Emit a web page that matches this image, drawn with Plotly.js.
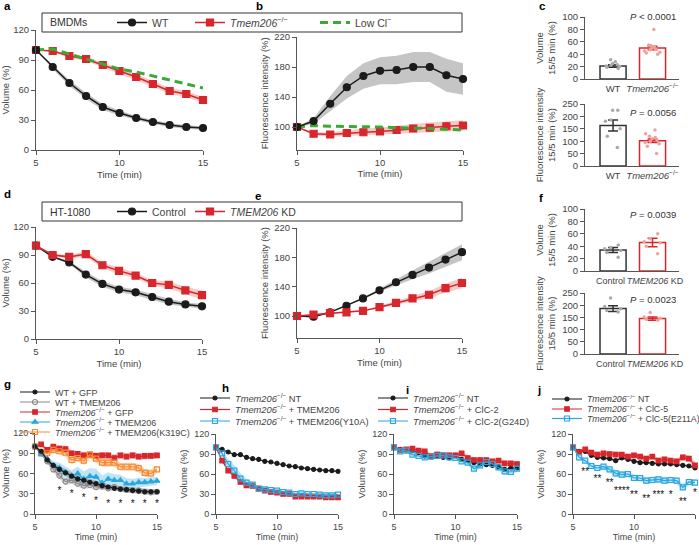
<!DOCTYPE html>
<html><head><meta charset="utf-8">
<script src="https://cdn.plot.ly/plotly-3.0.1.min.js"></script>
<style>body{margin:0;background:#fff}#chart{width:699px;height:545px}</style>
</head><body><div id="chart"></div>
<script>
// ---------- DATA ----------
const t1 = [5,6,7,8,9,10,11,12,13,14,15];
const t2 = [5,5.5,6,6.5,7,7.5,8,8.5,9,9.5,10,10.5,11,11.5,12,12.5,13,13.5,14,14.5,15];

// panel a (volume, BMDMs)
const aWT    = [100,83,67,54,43,37,32,28,25,23,22];
const aWTsem = [0,2,3,3,3,2.5,2,2,2,2,1.5];
const aKO    = [100,99,94,91,85,79,73,66,59,56,50];
const aKOsem = [0,1,2,2,2.5,3,3,3,3,3,3];
const aLow   = [100,101,96,91,86,81,78,74,70,66,62];
// panel b (fluorescence, BMDMs)
const bWT    = [100,108,131,153,168,175,176,180,180,169,164];
const bWTsem = [0,4,10,15,17,18,19,20,20,22,21];
const bKO    = [100,91,90,92,93,94,96,98,99,101,102];
const bKOsem = [0,2,3,4,5,5,6,6,7,7,7];
const bLow   = [100,102,101,101,101,100,99,99,98,97,96];
// panel c
const cCats = ['WT','<i>Tmem206</i><sup>−/−</sup>'];
const cVolMean = [21,50], cVolErr = [2,3];
const cVolWT = [17,19,20,21,22,23,25,28,31];
const cVolKO = [40,42,43,45,47,48,50,52,54,55,80];
const cFluMean = [163,102], cFluErr = [22,7];
const cFluWT = [225,225,185,180,150,120,75];
const cFluKO = [145,130,120,115,110,105,100,95,90,80,50];
// panel d (volume, HT-1080)
const dCtl    = [100,88,82,69,59,53,50,45,40,37,35];
const dCtlsem = [0,1,1.5,3,3,3,3,3,3,2.5,2.5];
const dKD     = [100,90,88,91,79,73,68,60,58,52,47];
const dKDsem  = [0,1.5,2,3,3,3.5,3,3,4,4,5];
// panel e (fluorescence, HT-1080)
const eCtl    = [100,99,105,114,124,135,146,156,166,177,187];
const eCtlsem = [0,0.5,1,1,1.5,2,4,6,8,10,11];
const eKD     = [100,102,104,105,107,112,118,124,129,138,145];
const eKDsem  = [0,1,1,1,1,2,3,4,5,6,7];
// panel f
const fCats = ['Control','TMEM206 KD'];
const fTickText = ['Control\u00a0\u00a0','\u00a0\u00a0<i>TMEM206</i> KD'];
const fVolMean = [34,46], fVolErr = [4,7];
const fVolCtl = [42,38,36,33,30,22];
const fVolKD  = [60,52,47,45,40,28];
const fFluMean = [186,145], fFluErr = [12,7];
const fFluCtl = [230,195,185,178,172];
const fFluKD  = [170,152,147,142,138];
// panel g
const gWTGFP = [100,93,80,72,66,61,56,52,50,47,45,42,40,38,37,36,35,34,33,33,33];
const gWTTM  = [100,90,78,66,57,48,50,45,42,43,40,41,38,40,37,36,35,35,33,32,33];
const gKOGFP = [100,103,95,100,97,96,90,89,87,88,86,87,87,83,87,85,87,85,86,86,87];
const gKOTM  = [100,88,82,72,68,62,56,60,52,56,55,46,52,50,50,45,45,47,47,48,49];
const gKOK   = [100,92,90,95,93,91,80,83,79,88,82,76,76,76,70,70,70,68,61,60,66];
const gWTGFPsem = [0,2,3,4,5,5,5,5,5,5,5,5,4,4,4,4,4,4,4,4,4];
const gWTTMsem  = [0,2,3,4,5,5,5,5,5,5,5,4,4,4,4,4,4,4,4,4,4];
const gKOGFPsem = [0,2,3,4,5,5,5,5,5,5,5,5,5,5,5,5,5,5,5,5,5];
const gKOTMsem  = [0,2,4,6,8,9,9,10,11,12,12,11,10,9,8,8,7,7,6,6,6];
const gKOKsem   = [0,3,4,5,5,6,6,6,6,6,6,6,6,6,6,6,6,6,6,6,6];
const gStarX = [7,8,9,10,11,12,13,14,15];
const gStarY = [34,29,23,19,14,14,14,14,14];
// panel h
const hNT = [100,97,93,89,89,85,83,82,79,78,76,74,72,71,69,68,67,66,65,65,64];
const hTM = [100,80,65,57,48,43,42,38,35,33,32,30,30,26,26,26,26,26,25,25,25];
const hY  = [100,91,75,65,53,47,44,38,37,36,35,33,32,30,31,30,30,29,28,28,29];
const hTMsem = [0,2,2,2,2,2,2,2,2,2,2,2,2,2,2,2,2,2,2,2,2];
const hYsem  = [0,3,7,9,8,6,4,3,3,3,3,3,3,3,3,3,3,3,3,3,3];
// panel i
const iNT = [100,97,96,95,92,87,86,88,85,84,88,82,80,77,75,74,73,71,67,69,69];
const iC2 = [100,96,97,98,95,94,87,89,88,88,88,91,84,81,81,81,79,80,76,76,75];
const iG  = [100,94,95,89,87,85,86,87,88,85,84,79,77,68,73,78,75,70,64,63,68];
const iC2sem = [0,2,3,3,4,4,4,5,5,5,4,4,4,4,4,4,4,4,4,4,4];
const iGsem  = [0,2,3,3,3,3,3,3,3,3,3,3,4,4,4,4,4,5,5,5,5];
// panel j
const jNT = [100,94,94,88,85,84,83,80,84,82,79,77,77,76,75,75,75,74,73,72,69];
const jC5 = [100,93,97,92,89,91,90,89,89,86,88,86,83,86,80,82,80,79,85,83,73];
const jE  = [100,85,80,72,69,71,67,61,59,60,54,54,50,51,52,50,51,50,40,48,47];
const jNTsem = [0,1,2,2,2,2,2,2,2,2,2,2,2,2,2,2,2,2,2,2,2];
const jC5sem = [0,2,3,4,4,4,4,4,4,4,4,4,4,4,4,4,4,4,5,5,5];
const jEsem  = [0,3,4,4,4,4,5,5,5,5,5,5,5,5,5,5,5,5,5,5,5];
const jStarX = [6,7,8,9,10,11,12,13,14,15];
const jStarY = [62,52,46,34,28,22,28,28,17,31];
const jStarT = ['**','**','**','****','**','**','***','*','**','*'];

// ---------- STYLE ----------
const W = 699, H = 545;
const F = 'Liberation Sans, Arial, Helvetica, sans-serif';
const AX = '#555', TXT = '#444';
const BLK = '#1b1b1b', RED = '#d7262c', GRN = '#3aaa35', BLUE = '#2aa7e0', ORG = '#f58a32', GRY = '#8a8a8a';
const bGrey = 'rgba(90,90,90,0.35)', bRed = 'rgba(225,90,80,0.32)', bBlue = 'rgba(42,167,224,0.3)', bOrg = 'rgba(245,138,50,0.35)';
const KO = '<i>Tmem206</i><sup>−/−</sup>';

const traces = [];
function band(x, m, s, xa, ya, fc) {
  const lo = m.map((v, i) => v - s[i]), hi = m.map((v, i) => v + s[i]);
  traces.push({type:'scatter', x, y:lo, xaxis:xa, yaxis:ya, mode:'lines', line:{width:0, color:'rgba(0,0,0,0)'}, showlegend:false, hoverinfo:'skip'});
  traces.push({type:'scatter', x, y:hi, xaxis:xa, yaxis:ya, mode:'lines', line:{width:0, color:'rgba(0,0,0,0)'}, fill:'tonexty', fillcolor:fc, showlegend:false, hoverinfo:'skip'});
}
function series(x, y, xa, ya, color, sym, size, width, name, leg, extra) {
  const t = {type:'scatter', x, y, xaxis:xa, yaxis:ya, mode:'lines+markers', name,
    line:{color, width}, marker:{color, symbol:sym, size, line:{color, width:1.2}},
    cliponaxis:false, showlegend:!!leg, hoverinfo:'skip'};
  if (leg) t.legend = leg;
  traces.push(Object.assign(t, extra || {}));
}
function bars(cats, mean, err, dotsA, dotsB, xa, ya, colA, colB, dotA, dotB) {
  [[dotsA, cats[0], dotA], [dotsB, cats[1], dotB]].forEach(([d, c, col]) => {
    traces.push({type:'box', x:d.map(() => c), y:d, xaxis:xa, yaxis:ya, boxpoints:'all', jitter:1, pointpos:0, width:0.5,
      fillcolor:'rgba(0,0,0,0)', line:{width:0, color:'rgba(0,0,0,0)'}, marker:{color:col, size:3.5}, showlegend:false, hoverinfo:'skip'});
  });
  [[0, colA], [1, colB]].forEach(([i, col]) => {
    traces.push({type:'bar', x:[cats[i]], y:[mean[i]], xaxis:xa, yaxis:ya, width:0.66,
      marker:{color:'rgba(0,0,0,0)', line:{color:col, width:1.5}},
      error_y:{type:'data', array:[err[i]], color:col, thickness:1.5, width:5}, showlegend:false, hoverinfo:'skip'});
  });
}

// a
band(t1, aWT, aWTsem, 'x', 'y', bGrey);
band(t1, aKO, aKOsem, 'x', 'y', bRed);
series(t1, aKO, 'x', 'y', RED, 'square', 7, 1.5, KO, 'legend2');
series(t1, aLow, 'x', 'y', GRN, 'circle', 1, 3, 'Low Cl<sup>−</sup>', 'legend3', {mode:'lines', line:{color:GRN, width:3, dash:'8px,5px'}});
series(t1, aWT, 'x', 'y', BLK, 'circle', 7, 1.5, 'WT', 'legend');
// b
band(t1, bWT, bWTsem, 'x2', 'y2', bGrey);
band(t1, bKO, bKOsem, 'x2', 'y2', bRed);
series(t1, bKO, 'x2', 'y2', RED, 'square', 7, 1.5, KO);
series(t1, bLow, 'x2', 'y2', GRN, 'circle', 1, 3, 'Low Cl', null, {mode:'lines', line:{color:GRN, width:3, dash:'8px,5px'}});
series(t1, bWT, 'x2', 'y2', BLK, 'circle', 7, 1.5, 'WT');
// c
bars(cCats, cVolMean, cVolErr, cVolWT, cVolKO, 'x3', 'y3', '#333', RED, '#a9a9a9', '#f4a19b');
bars(cCats, cFluMean, cFluErr, cFluWT, cFluKO, 'x4', 'y4', '#333', RED, '#a9a9a9', '#f4a19b');
// d
band(t1, dCtl, dCtlsem, 'x5', 'y5', bGrey);
band(t1, dKD, dKDsem, 'x5', 'y5', bRed);
series(t1, dCtl, 'x5', 'y5', BLK, 'circle', 7, 1.5, 'Control', 'legend4');
series(t1, dKD, 'x5', 'y5', RED, 'square', 7, 1.5, '<i>TMEM206</i> KD', 'legend5');
// e
band(t1, eCtl, eCtlsem, 'x6', 'y6', bGrey);
band(t1, eKD, eKDsem, 'x6', 'y6', bRed);
series(t1, eCtl, 'x6', 'y6', BLK, 'circle', 7, 1.5, 'Control');
series(t1, eKD, 'x6', 'y6', RED, 'square', 7, 1.5, 'KD');
// f
bars(fCats, fVolMean, fVolErr, fVolCtl, fVolKD, 'x7', 'y7', '#333', RED, '#a9a9a9', '#f4a19b');
bars(fCats, fFluMean, fFluErr, fFluCtl, fFluKD, 'x8', 'y8', '#333', RED, '#a9a9a9', '#f4a19b');
// g
band(t2, gKOGFP, gKOGFPsem, 'x9', 'y9', bRed);
band(t2, gKOK, gKOKsem, 'x9', 'y9', bOrg);
band(t2, gKOTM, gKOTMsem, 'x9', 'y9', bBlue);
band(t2, gWTTM, gWTTMsem, 'x9', 'y9', 'rgba(150,150,150,0.35)');
band(t2, gWTGFP, gWTGFPsem, 'x9', 'y9', bGrey);
series(t2, gKOGFP, 'x9', 'y9', RED, 'square', 4.5, 1.2, KO + ' + GFP', 'legend8');
series(t2, gKOK, 'x9', 'y9', ORG, 'square-open', 5, 1.2, KO + ' + TMEM206(K319C)', 'legend10');
series(t2, gKOTM, 'x9', 'y9', BLUE, 'triangle-up', 5, 1.2, KO + ' + TMEM206', 'legend9');
series(t2, gWTTM, 'x9', 'y9', GRY, 'circle-open', 5, 1.2, 'WT + TMEM206', 'legend7');
series(t2, gWTGFP, 'x9', 'y9', BLK, 'circle', 4, 1.2, 'WT + GFP', 'legend6');
traces.push({type:'scatter', x:gStarX, y:gStarY, xaxis:'x9', yaxis:'y9', mode:'text', text:gStarX.map(() => '*'),
  textfont:{family:F, size:10, color:'#111'}, showlegend:false, hoverinfo:'skip', cliponaxis:false});
// h
band(t2, hY, hYsem, 'x10', 'y10', bBlue);
band(t2, hTM, hTMsem, 'x10', 'y10', bRed);
series(t2, hNT, 'x10', 'y10', BLK, 'circle', 4, 1.2, KO + ' NT', 'legend11');
series(t2, hTM, 'x10', 'y10', RED, 'square', 4.5, 1.2, KO + ' + TMEM206', 'legend12');
series(t2, hY, 'x10', 'y10', BLUE, 'square-open', 5, 1.2, KO + ' + TMEM206(Y10A)', 'legend13');
// i
band(t2, iC2, iC2sem, 'x11', 'y11', bRed);
band(t2, iG, iGsem, 'x11', 'y11', bBlue);
series(t2, iNT, 'x11', 'y11', BLK, 'circle', 4, 1.2, KO + ' NT', 'legend14');
series(t2, iC2, 'x11', 'y11', RED, 'square', 4.5, 1.2, KO + ' + ClC-2', 'legend15');
series(t2, iG, 'x11', 'y11', BLUE, 'square-open', 5, 1.2, KO + ' + ClC-2(G24D)', 'legend16');
// j
band(t2, jNT, jNTsem, 'x12', 'y12', bGrey);
band(t2, jC5, jC5sem, 'x12', 'y12', bRed);
band(t2, jE, jEsem, 'x12', 'y12', bBlue);
series(t2, jNT, 'x12', 'y12', BLK, 'circle', 4, 1.2, KO + ' NT', 'legend17');
series(t2, jC5, 'x12', 'y12', RED, 'square', 4.5, 1.2, KO + ' + ClC-5', 'legend18');
series(t2, jE, 'x12', 'y12', BLUE, 'square-open', 5, 1.2, KO + ' + ClC-5(E211A)', 'legend19');
traces.push({type:'scatter', x:jStarX, y:jStarY, xaxis:'x12', yaxis:'y12', mode:'text', text:jStarT,
  textfont:{family:F, size:10, color:'#111'}, showlegend:false, hoverinfo:'skip', cliponaxis:false});

// ---------- LAYOUT ----------
const hd = (a, b) => [a / W, b / W];
const vd = (top, bot) => [1 - bot / H, 1 - top / H];
const base = {showline:true, linecolor:AX, linewidth:1, ticks:'outside', ticklen:4, tickwidth:1, tickcolor:AX,
  showgrid:false, zeroline:false, fixedrange:true, automargin:false, tickfont:{family:F, size:9.5, color:TXT}};
function X(dom, anchor, extra) { return Object.assign({}, base, {domain:dom, anchor, range:[5,15], tickvals:[5,10,15]}, extra || {}); }
function Y(dom, anchor, range, tv, title, extra, standoff) {
  const tt = {text:title, font:{family:F, size:9.5, color:TXT}};
  if (standoff !== undefined) tt.standoff = standoff;
  return Object.assign({}, base, {domain:dom, anchor, range, tickvals:tv, title:tt}, extra || {});
}
function XC(dom, anchor, cats, ttext, fs) {
  const o = Object.assign({}, base, {domain:dom, anchor, type:'category', categoryorder:'array', categoryarray:cats,
    range:[-0.71,1.67], ticks:'', tickangle:0, ticklabelstandoff:1, tickfont:{family:F, size:fs || 9.5, color:TXT}});
  if (ttext) { o.tickmode = 'array'; o.tickvals = cats; o.ticktext = ttext; }
  return o;
}
const tTime = {text:'Time (min)', font:{family:F, size:9.5, color:TXT}, standoff:3};
const tTime9 = {text:'Time (min)', font:{family:F, size:9, color:TXT}, standoff:2};
const v120 = [0,30,60,90,120];
const small = {tickfont:{family:F, size:9, color:TXT}};

const layout = {
  width:W, height:H, margin:{l:0, r:0, t:0, b:0, pad:0, autoexpand:false}, paper_bgcolor:'#fff', plot_bgcolor:'rgba(0,0,0,0)',
  font:{family:F, size:9.5, color:TXT}, barmode:'overlay', boxmode:'overlay',
  xaxis:  X(hd(36,203), 'y', {title:tTime}),
  yaxis:  Y(vd(30,150), 'x', [0,120], v120, 'Volume (%)'),
  xaxis2: X(hd(297,463), 'y2', {title:tTime}),
  yaxis2: Y(vd(37,149.5), 'x2', [70,220], [100,140,180,220], 'Fluorescence intensity (%)'),
  xaxis3: XC(hd(585,679), 'y3', cCats),
  yaxis3: Y(vd(17,79), 'x3', [0,100], [0,20,40,60,80,100], 'Volume<br>15/5 min (%)', null, 4),
  xaxis4: XC(hd(585,679), 'y4', cCats),
  yaxis4: Y(vd(104,166), 'x4', [0,250], [0,50,100,150,200,250], 'Fluorescence intensity<br>15/5 min (%)', null, 4),
  xaxis5: X(hd(36,202), 'y5', {title:tTime}),
  yaxis5: Y(vd(227,339), 'x5', [0,120], v120, 'Volume (%)'),
  xaxis6: X(hd(297,462), 'y6', {title:tTime}),
  yaxis6: Y(vd(228,338), 'x6', [70,220], [100,140,180,220], 'Fluorescence intensity (%)'),
  xaxis7: XC(hd(585,679), 'y7', fCats, fTickText, 9),
  yaxis7: Y(vd(209,271), 'x7', [0,100], [0,20,40,60,80,100], 'Volume<br>15/5 min (%)', null, 4),
  xaxis8: XC(hd(585,679), 'y8', fCats, fTickText, 9),
  yaxis8: Y(vd(293,354), 'x8', [0,250], [0,50,100,150,200,250], 'Fluorescence intensity<br>15/5 min (%)', null, 4),
  xaxis9:  X(hd(35,157), 'y9', Object.assign({title:tTime9}, small)),
  yaxis9:  Y(vd(433,514), 'x9', [0,120], v120, 'Volume (%)', small),
  xaxis10: X(hd(216,338), 'y10', Object.assign({title:tTime9}, small)),
  yaxis10: Y(vd(434,514), 'x10', [0,120], v120, 'Volume (%)', small),
  xaxis11: X(hd(394,517), 'y11', Object.assign({title:tTime9}, small)),
  yaxis11: Y(vd(434,514), 'x11', [0,120], v120, 'Volume (%)', small),
  xaxis12: X(hd(573,695), 'y12', Object.assign({title:tTime9}, small)),
  yaxis12: Y(vd(434,514), 'x12', [0,120], v120, 'Volume (%)', small),
  shapes:[
    {type:'rect', xref:'paper', yref:'paper', x0:42/W, x1:462/W, y0:1-13/H, y1:1-32/H, line:{color:'#333', width:1}},
    {type:'rect', xref:'paper', yref:'paper', x0:42/W, x1:462/W, y0:1-202/H, y1:1-221/H, line:{color:'#333', width:1}}
  ],
  annotations:[]
};
function leg(xpx, ypx, size) {
  return {x:xpx/W, y:1-ypx/H, xanchor:'left', yanchor:'middle', orientation:'v', bgcolor:'rgba(0,0,0,0)',
    borderwidth:0, font:{family:F, size, color:TXT}};
}
const legPos = {
  legend:[112,22.5,10.5], legend2:[190,22.5,10.5], legend3:[315,22.5,10.5],
  legend4:[112,211.5,10.5], legend5:[190,211.5,10.5],
  legend6:[15,392,9], legend7:[15,402,9], legend8:[15,412,9], legend9:[15,422,9], legend10:[15,432,9],
  legend11:[195,398,9.3], legend12:[195,409.5,9.3], legend13:[195,421,9.3],
  legend14:[373,398,9.3], legend15:[373,409.5,9.3], legend16:[373,421,9.3],
  legend17:[547,399,8.8], legend18:[547,409,8.8], legend19:[547,418.5,8.8]
};
Object.keys(legPos).forEach(k => { const p = legPos[k]; layout[k] = leg(p[0], p[1], p[2]); });

function ann(text, xpx, ypx, size, extra) {
  layout.annotations.push(Object.assign({text, x:xpx/W, y:1-ypx/H, xref:'paper', yref:'paper', showarrow:false,
    xanchor:'left', yanchor:'middle', font:{family:F, size, color:'#333'}}, extra || {}));
}
[['a',2,6],['b',254,6],['c',537,6],['d',2,194],['e',253,196],['f',537,198],['g',2,384],['h',220,388],['i',404,390],['j',535,390]]
  .forEach(([l, x, y]) => ann('<b>' + l + '</b>', x, y, 11.5, {font:{family:F, size:11.5, color:'#000'}}));
ann('BMDMs', 48, 22.5, 10.5);
ann('HT-1080', 48, 211.5, 10.5);
ann('<i>P</i> < 0.0001', 653, 17, 9.5, {xanchor:'center'});
ann('<i>P</i> = 0.0056', 653, 112, 9.5, {xanchor:'center'});
ann('<i>P</i> = 0.0039', 653, 214, 9.5, {xanchor:'center'});
ann('<i>P</i> = 0.0023', 653, 299, 9.5, {xanchor:'center'});

Plotly.newPlot('chart', traces, layout, {staticPlot:true, displayModeBar:false});
</script>
</body></html>
